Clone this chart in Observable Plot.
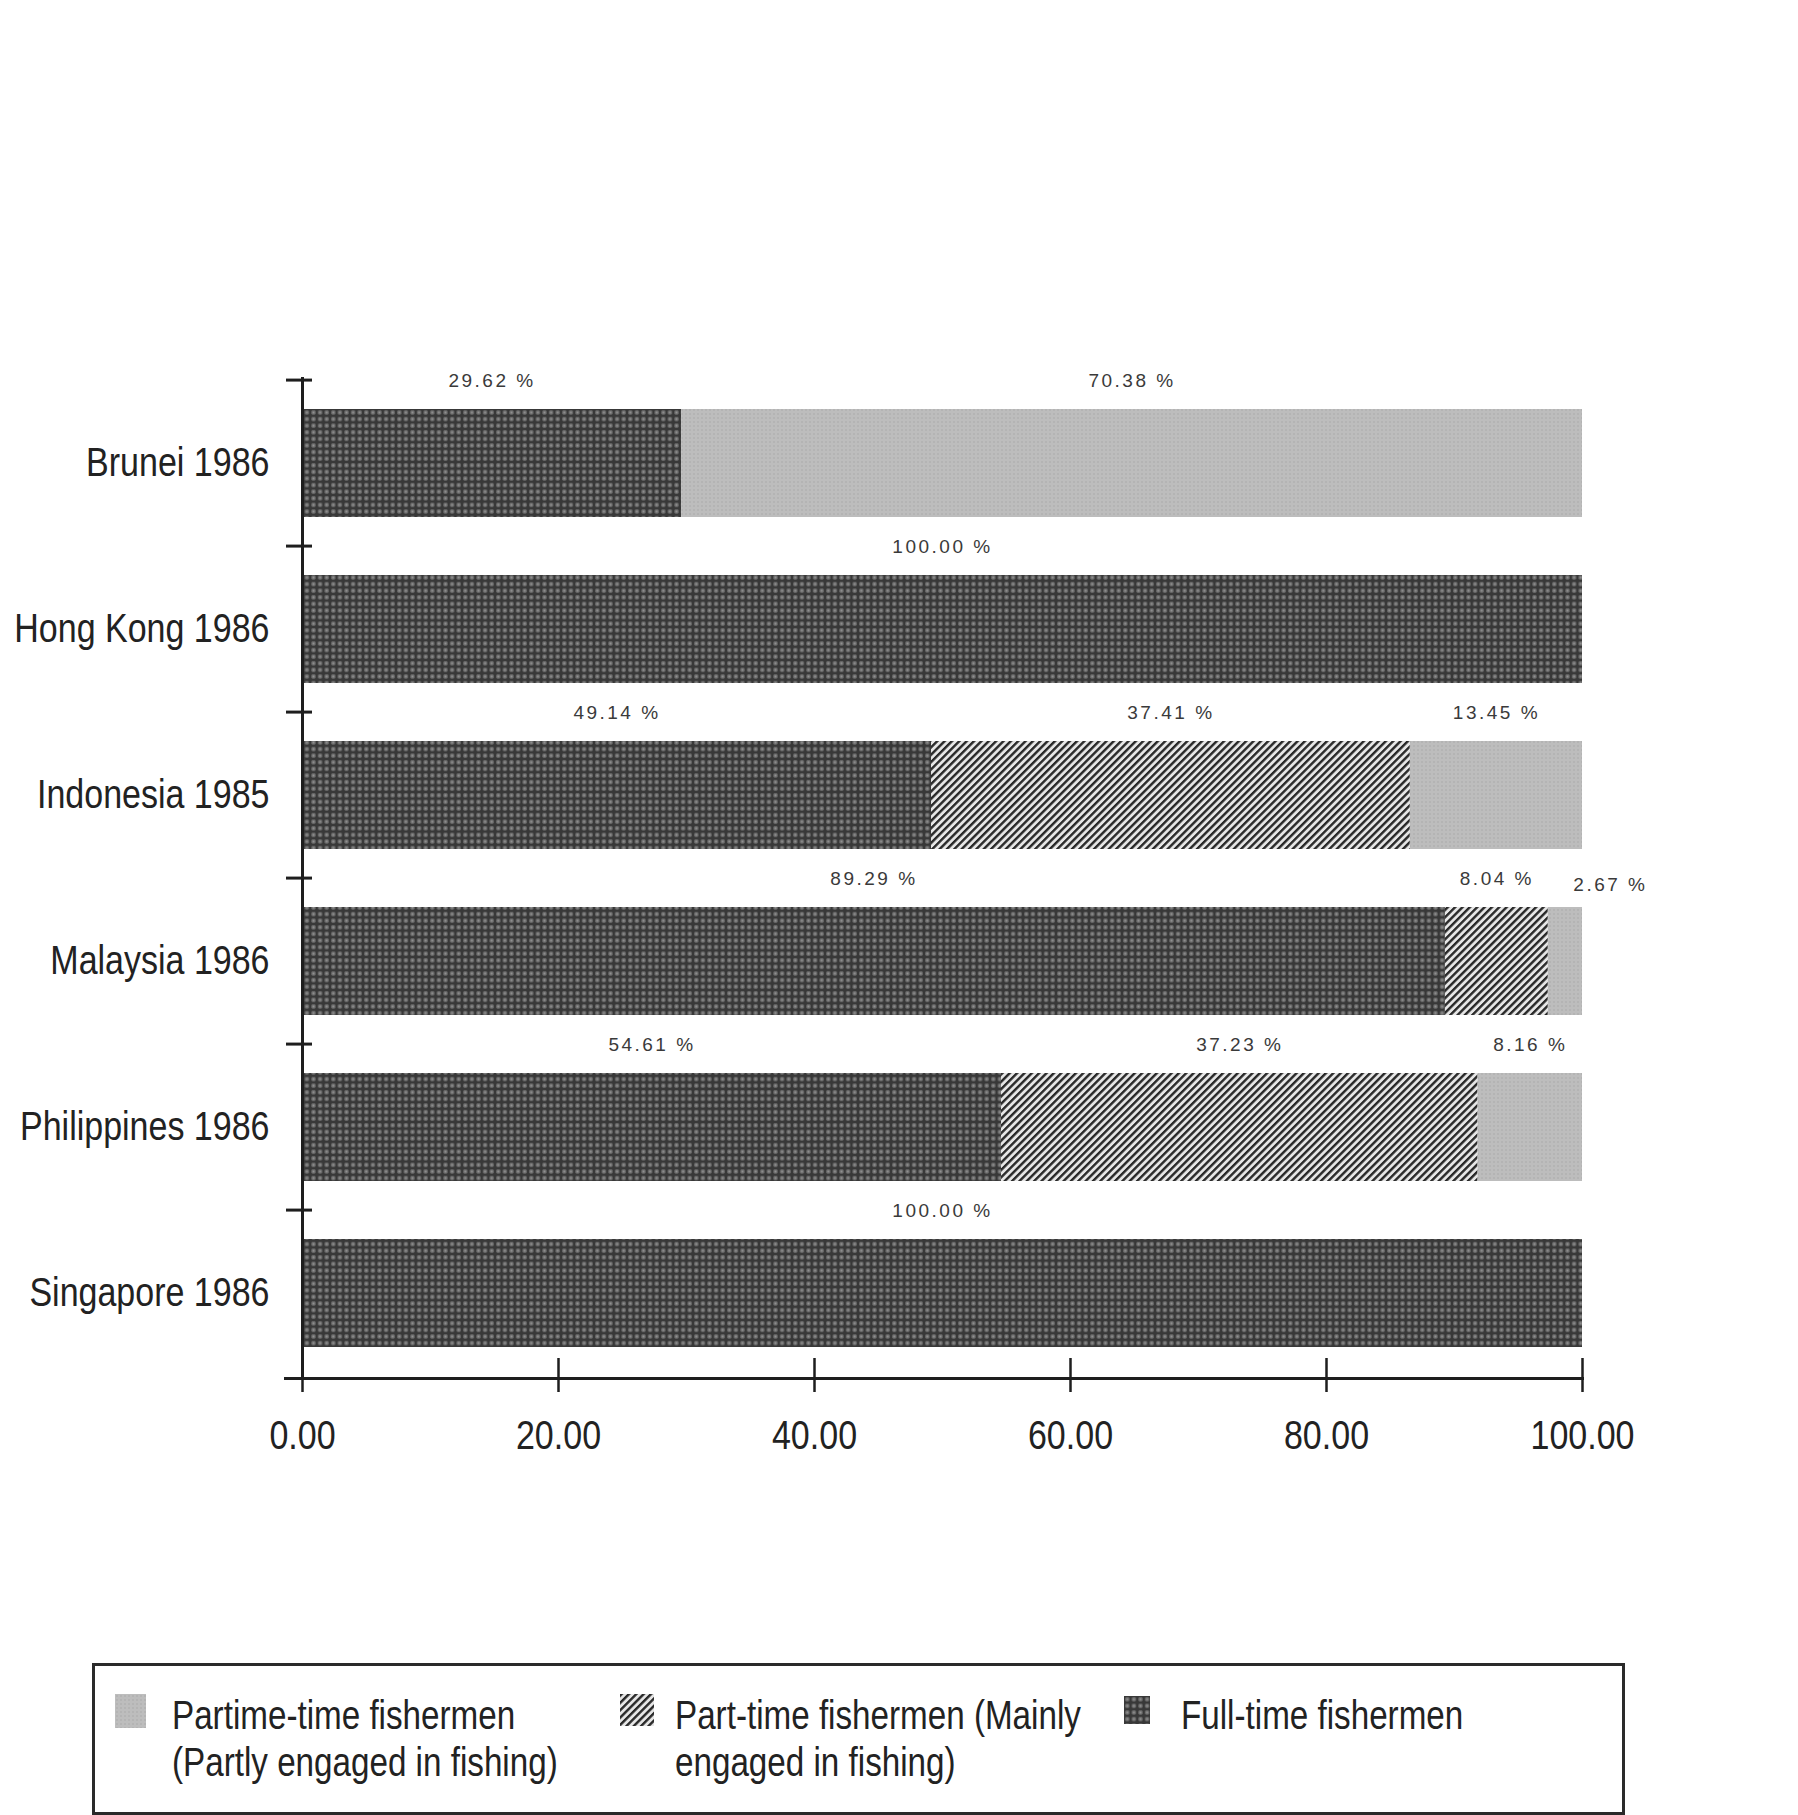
<!DOCTYPE html>
<html>
<head>
<meta charset="utf-8">
<script src="https://cdn.jsdelivr.net/npm/d3@7"></script>
<script src="https://cdn.jsdelivr.net/npm/@observablehq/plot@0.6"></script>
<style>
  html, body { margin: 0; padding: 0; background: #fff; overflow: hidden; }
  #wrap { position: relative; width: 1798px; height: 1815px; overflow: hidden;
          font-family: 'Liberation Sans', Arial, sans-serif; color: #222; }
  #chart { position: absolute; left: 0; top: 0; }
  #chart g[aria-label="text"] text { letter-spacing: 2.5px; }
  #legendBox { position: absolute; left: 92px; top: 1663px; width: 1533px; height: 152px;
               border: 3px solid #2a2a2a; box-sizing: border-box; }
  .sw { position: absolute; }
  .lt { position: absolute; font-size: 40px; line-height: 47px; white-space: nowrap; color: #222;
        transform: scaleX(0.83); transform-origin: 0 0; }
</style>
</head>
<body>
<svg width="0" height="0" style="position:absolute">
  <defs>
    <pattern id="pat-full" patternUnits="userSpaceOnUse" width="6.6" height="6.6">
      <rect width="6.6" height="6.6" fill="#383838"/>
      <rect x="1.2" y="1.2" width="4.2" height="4.2" rx="1.3" fill="#717171"/>
      <circle cx="3.3" cy="3.3" r="0.9" fill="#909090"/>
    </pattern>
    <pattern id="pat-hatch" patternUnits="userSpaceOnUse" width="5.2" height="5.2" patternTransform="rotate(45)">
      <rect width="5.2" height="5.2" fill="#e6e6e6"/>
      <rect width="2.4" height="5.2" fill="#282828"/>
    </pattern>
    <pattern id="pat-light" patternUnits="userSpaceOnUse" width="4" height="4">
      <rect width="4" height="4" fill="#bdbdbd"/>
      <circle cx="2" cy="2" r="0.8" fill="#aaaaaa"/>
    </pattern>
  </defs>
</svg>
<div id="wrap">
  <div id="chart"></div>
  <div id="legendBox"></div>
</div>
<script>
// ---- data ----
const categories = ["Brunei 1986", "Hong Kong 1986", "Indonesia 1985", "Malaysia 1986", "Philippines 1986", "Singapore 1986"];
const seriesKeys = ["full", "mainly", "partly"];
const fullTime   = [29.62, 100.00, 49.14, 89.29, 54.61, 100.00];
const partMainly = [0,     0,      37.41, 8.04,  37.23, 0];
const partPartly = [70.38, 0,      13.45, 2.67,  8.16,  0];
const xTicks = [0, 20, 40, 60, 80, 100];
const legendSeries = ["partly", "mainly", "full"];
const legendLabels = [
  ["Partime-time fishermen", "(Partly engaged in fishing)"],
  ["Part-time fishermen (Mainly", "engaged in fishing)"],
  ["Full-time fishermen"]
];

// ---- build table ----
const valuesBySeries = {full: fullTime, mainly: partMainly, partly: partPartly};
const rows = [];
categories.forEach((c, i) => seriesKeys.forEach(s => {
  const v = valuesBySeries[s][i];
  if (v > 0) rows.push({country: c, series: s, value: v});
}));
const fmt = v => v.toFixed(2) + " %";
const patterns = {full: "url(#pat-full)", mainly: "url(#pat-hatch)", partly: "url(#pat-light)"};

const plotH = 1500, plotTop = 377, plotBottom = 1378;
const bandStep = (plotBottom - plotTop) / categories.length;
const axisColor = "#1e1e1e";
const labelFont = "'Liberation Sans', Arial, sans-serif";

const chart = Plot.plot({
  width: 1798, height: plotH,
  marginLeft: 302, marginRight: 216, marginTop: plotTop, marginBottom: plotH - plotBottom,
  style: {fontFamily: labelFont, color: "#222", background: "transparent", overflow: "visible"},
  x: {domain: [0, 100], label: null},
  y: {domain: categories, label: null, paddingInner: 0.35, paddingOuter: 0.175},
  color: {domain: seriesKeys, range: seriesKeys.map(s => patterns[s])},
  marks: [
    Plot.barX(rows, {x: "value", y: "country", fill: "series"}),
    Plot.text(rows, Plot.stackX({x: "value", y: "country", z: "series",
      text: d => d.value >= 4 ? fmt(d.value) : null,
      dy: -83, fontSize: 19, fill: "#3a3a3a"})),
    Plot.text(rows, Plot.stackX({x: "value", y: "country", z: "series",
      text: d => d.value < 4 ? fmt(d.value) : null,
      dx: 45, dy: -77, fontSize: 19, fill: "#3a3a3a"})),
    Plot.ruleX([0], {strokeWidth: 3, stroke: axisColor}),
    Plot.frame({anchor: "bottom", insetLeft: -17, strokeWidth: 3, stroke: axisColor}),
    Plot.axisY({tickSize: 0, tickPadding: 33, fontSize: 40, color: "#222"}),
    Plot.axisY({tickSize: 26, dx: 10, dy: -bandStep / 2, strokeWidth: 3, color: axisColor, tickFormat: () => ""}),
    Plot.axisX({ticks: xTicks, tickSize: 34, dy: -20, strokeWidth: 2.5, color: axisColor, tickFormat: () => ""}),
    Plot.axisX({ticks: xTicks, tickSize: 0, tickPadding: 42, fontSize: 40, color: "#222", tickFormat: d => d.toFixed(2)})
  ]
});
document.getElementById("chart").appendChild(chart);

// condense the axis labels (the original uses a narrow Helvetica)
d3.select(chart).selectAll('g[aria-label="y-axis tick label"] text, g[aria-label="x-axis tick label"] text')
  .each(function () {
    const w = this.getComputedTextLength();
    if (w > 0) {
      this.setAttribute("textLength", (w * 0.85).toFixed(1));
      this.setAttribute("lengthAdjust", "spacingAndGlyphs");
    }
  });

// ---- legend ----
const wrap = document.getElementById("wrap");
const swatchPos = [{l: 115, t: 1694, w: 31, h: 34}, {l: 620, t: 1694, w: 34, h: 32}, {l: 1124, t: 1696, w: 26, h: 28}];
const textLeft = [172, 675, 1181];
legendSeries.forEach((s, i) => {
  const p = swatchPos[i];
  const sw = d3.create("svg").attr("class", "sw").attr("width", p.w).attr("height", p.h)
    .style("left", p.l + "px").style("top", p.t + "px");
  sw.append("rect").attr("width", p.w).attr("height", p.h).attr("fill", patterns[s]);
  wrap.appendChild(sw.node());
  const t = document.createElement("div");
  t.className = "lt";
  t.style.left = textLeft[i] + "px";
  t.style.top = "1692px";
  t.innerHTML = legendLabels[i].join("<br>");
  wrap.appendChild(t);
});
</script>
</body>
</html>
